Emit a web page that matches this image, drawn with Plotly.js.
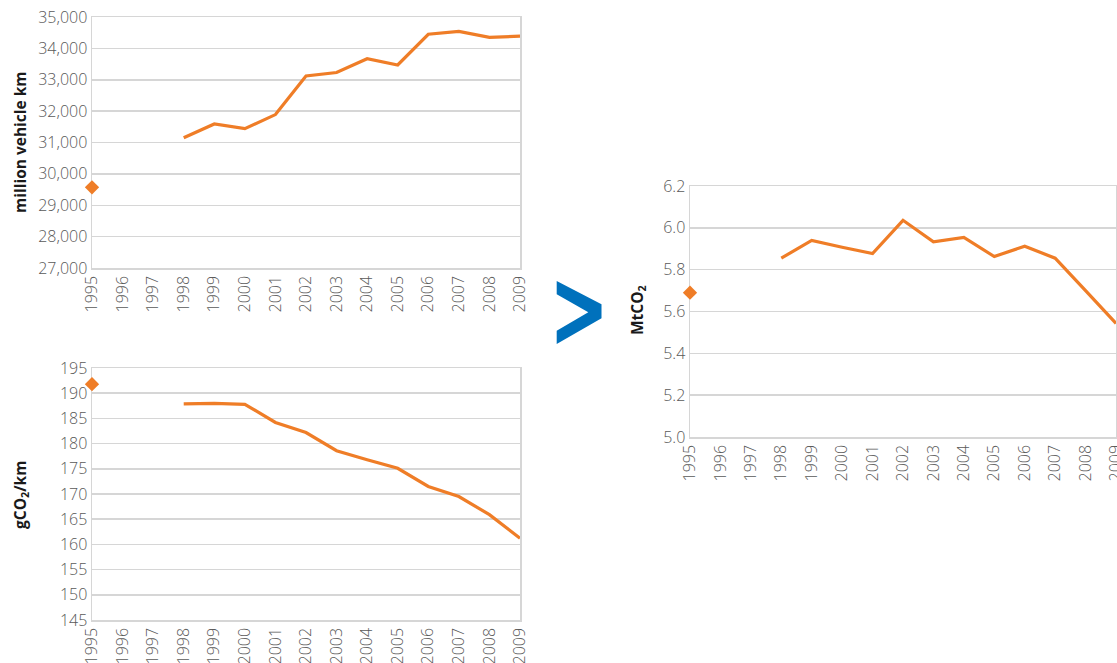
<!DOCTYPE html>
<html>
<head>
<meta charset="utf-8">
<script src="https://cdn.plot.ly/plotly-3.0.1.min.js"></script>
<style>html,body{margin:0;padding:0;background:#fff;}#chart{width:1117px;height:663px;}</style>
</head>
<body>
<div id="chart"></div>
<script>
// Years on the x axis
var years = [1995, 1996, 1997, 1998, 1999, 2000, 2001, 2002, 2003, 2004, 2005, 2006, 2007, 2008, 2009];
// Million vehicle km (1996, 1997 missing)
var vehicleKm = [29570, null, null, 31150, 31590, 31440, 31890, 33120, 33230, 33670, 33470, 34450, 34540, 34350, 34390];
// gCO2 per km
var gco2PerKm = [191.8, null, null, 187.9, 188.0, 187.8, 184.2, 182.2, 178.6, 176.8, 175.1, 171.5, 169.5, 165.9, 161.2];
// Total MtCO2
var mtco2 = [5.69, null, null, 5.855, 5.94, 5.907, 5.877, 6.036, 5.933, 5.954, 5.863, 5.912, 5.855, 5.70, 5.543];

var orange = '#EF7D27';
var grid = '#D6D6D6';
var tickFont = {family: 'Open Sans, sans-serif', size: 16, color: '#595959', weight: 300};

function lineTrace(vals, xa, ya) {
  return {x: years.slice(3), y: vals.slice(3), xaxis: xa, yaxis: ya, type: 'scatter', mode: 'lines',
    line: {color: orange, width: 3.2}, cliponaxis: false, hoverinfo: 'x+y'};
}
function pointTrace(vals, xa, ya) {
  return {x: [years[0]], y: [vals[0]], xaxis: xa, yaxis: ya, type: 'scatter', mode: 'markers',
    marker: {symbol: 'diamond', color: orange, size: 11, line: {width: 0}}, cliponaxis: false};
}

var data = [
  lineTrace(vehicleKm, 'x', 'y'), pointTrace(vehicleKm, 'x', 'y'),
  lineTrace(gco2PerKm, 'x2', 'y2'), pointTrace(gco2PerKm, 'x2', 'y2'),
  lineTrace(mtco2, 'x3', 'y3'), pointTrace(mtco2, 'x3', 'y3')
];

function xAxis(domain, anchor) {
  return {domain: domain, anchor: anchor, range: [years[0], years[years.length - 1]], dtick: 1, tick0: years[0],
    tickangle: -90, showgrid: false, zeroline: false, showline: true, mirror: true, linecolor: grid, linewidth: 1.5,
    ticks: '', tickfont: tickFont, fixedrange: true, layer: 'below traces', ticklabeloverflow: 'allow'};
}
function yAxis(domain, anchor, range, dtick, fmt) {
  return {domain: domain, anchor: anchor, range: range, dtick: dtick, tickformat: fmt,
    showgrid: true, gridcolor: grid, gridwidth: 1.5, zeroline: false, showline: true, mirror: true,
    linecolor: grid, linewidth: 1.5, ticks: '', tickfont: tickFont, fixedrange: true, layer: 'below traces'};
}

var W = 1117, H = 663;
function px(a, b) { return [a / W, b / W]; }
function py(top, bottom) { return [1 - bottom / H, 1 - top / H]; }

var titleFont = {family: 'Open Sans, sans-serif', size: 15.5, color: '#1a1a1a', weight: 'bold'};

var layout = {
  width: W, height: H,
  margin: {l: 0, r: 0, t: 0, b: 0},
  paper_bgcolor: '#ffffff', plot_bgcolor: '#ffffff',
  showlegend: false,
  xaxis: xAxis(px(92, 520), 'y'),
  yaxis: yAxis(py(17, 268), 'x', [27000, 35000], 1000, ',d'),
  xaxis2: xAxis(px(92, 520), 'y2'),
  yaxis2: yAxis(py(368, 620), 'x2', [145, 195], 5, 'd'),
  xaxis3: xAxis(px(690, 1116), 'y3'),
  yaxis3: yAxis(py(186, 437), 'x3', [5.0, 6.2], 0.2, '.1f'),
  annotations: [
    {text: '<b>million vehicle km</b>', xref: 'paper', yref: 'paper', x: 20 / W, y: 1 - 142 / H,
      textangle: -90, showarrow: false, font: titleFont, xanchor: 'center', yanchor: 'middle'},
    {text: '<b>gCO<sub>2</sub>/km</b>', xref: 'paper', yref: 'paper', x: 20 / W, y: 1 - 495 / H,
      textangle: -90, showarrow: false, font: titleFont, xanchor: 'center', yanchor: 'middle'},
    {text: '<b>MtCO<sub>2</sub></b>', xref: 'paper', yref: 'paper', x: 637 / W, y: 1 - 310 / H,
      textangle: -90, showarrow: false, font: titleFont, xanchor: 'center', yanchor: 'middle'}
  ],
  shapes: [
    {type: 'path', xref: 'paper', yref: 'paper', fillcolor: '#0071BC', line: {width: 0},
      path: 'M ' + (556.7 / W) + ' ' + (1 - 281 / H) +
            ' L ' + (601.5 / W) + ' ' + (1 - 304.3 / H) +
            ' L ' + (601.5 / W) + ' ' + (1 - 318.3 / H) +
            ' L ' + (556.7 / W) + ' ' + (1 - 344 / H) +
            ' L ' + (556.7 / W) + ' ' + (1 - 330.7 / H) +
            ' L ' + (588.3 / W) + ' ' + (1 - 312.3 / H) +
            ' L ' + (556.7 / W) + ' ' + (1 - 294.3 / H) + ' Z'}
  ]
};

Plotly.newPlot('chart', data, layout, {displayModeBar: false, staticPlot: true});
</script>
</body>
</html>
